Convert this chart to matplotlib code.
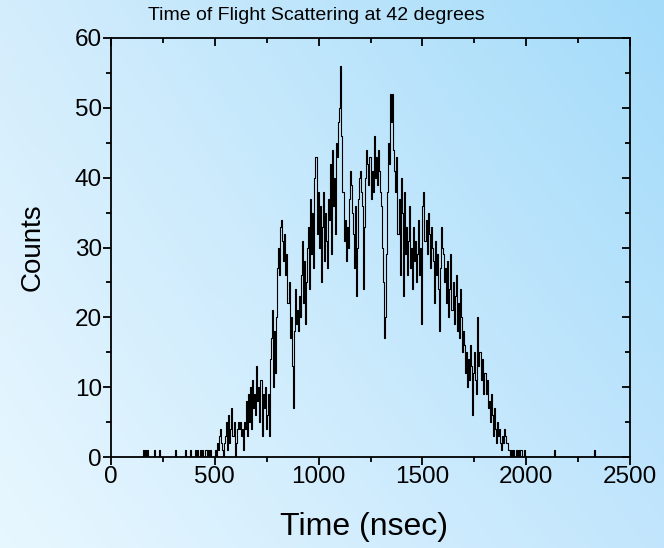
import numpy as np
import matplotlib
matplotlib.use("Agg")
import matplotlib.pyplot as plt
from matplotlib.ticker import MultipleLocator

plt.rcParams['font.family'] = ['Liberation Sans', 'DejaVu Sans']

# histogram: 5 nsec bins, main part starts at 500 nsec
bin_width = 5
t_start = 500
counts_main = [
    1, 0, 2, 1, 3, 4, 2, 1, 0, 2, 3, 5, 1, 6, 2, 4, 7, 3, 5, 0,            # 500
    2, 4, 5, 4, 5, 3, 4, 1, 5, 4, 8, 3, 9, 5, 10, 4, 11, 7, 9, 6,          # 600
    13, 8, 10, 5, 11, 3, 9, 7, 10, 4, 6, 9, 3, 14, 17, 21, 10, 18, 12, 20,  # 700
    27, 30, 26, 33, 34, 31, 28, 32, 26, 29, 22, 25, 17, 20, 13, 7, 18, 24, 19, 21,  # 800
    18, 23, 20, 26, 31, 22, 28, 19, 25, 30, 33, 24, 37, 29, 35, 27, 40, 43, 32, 38,  # 900
    30, 36, 25, 33, 38, 28, 35, 31, 27, 37, 34, 42, 29, 44, 36, 40, 32, 45, 43, 48,  # 1000
    50, 56, 46, 38, 31, 34, 28, 33, 30, 37, 41, 39, 35, 32, 27, 36, 23, 30, 37, 40,  # 1100
    41, 38, 36, 24, 33, 40, 44, 42, 39, 43, 37, 41, 38, 46, 40, 43, 39, 44, 41, 38,  # 1200
    36, 30, 25, 17, 20, 29, 38, 45, 42, 52, 48, 52, 44, 41, 38, 43, 32, 37, 26, 40,  # 1300
    35, 23, 38, 29, 33, 26, 31, 36, 27, 30, 24, 33, 28, 31, 25, 29, 34, 26, 30, 19,  # 1400
    36, 38, 31, 34, 29, 35, 32, 27, 33, 30, 28, 22, 31, 26, 29, 24, 18, 27, 33, 30,  # 1500
    29, 25, 27, 22, 28, 20, 24, 29, 21, 25, 19, 23, 26, 18, 22, 17, 24, 20, 15, 18,  # 1600
    16, 12, 15, 10, 14, 11, 16, 13, 6, 12, 15, 11, 9, 20, 13, 15, 11, 14, 9, 12,     # 1700
    12, 9, 11, 7, 8, 5, 9, 6, 3, 7, 4, 2, 5, 3, 4, 2, 1, 3, 2, 4,                    # 1800
    3, 2, 1, 1, 0, 1, 0, 1, 0, 0, 1, 0, 1, 0, 1, 1, 0, 0, 1, 0,                      # 1900
]
# single counts outside the main peak
stray_times = [155, 165, 175, 205, 230, 310, 355, 380, 405, 415, 430, 440, 455, 465, 475,
               2135, 2325]

x_ticks = [0, 500, 1000, 1500, 2000, 2500]
y_ticks = [0, 10, 20, 30, 40, 50, 60]

times = np.arange(0, 2500, bin_width)
counts = np.zeros(len(times))
i0 = t_start // bin_width
counts[i0:i0 + len(counts_main)] = counts_main
for t in stray_times:
    counts[t // bin_width] = 1

fig = plt.figure(figsize=(6.64, 5.48), dpi=100)

# background gradient
bg = fig.add_axes([0, 0, 1, 1], zorder=-10)
tl = np.array([0.83, 0.93, 0.99])
tr = np.array([0.64, 0.86, 0.98])
bl = np.array([0.91, 0.97, 1.00])
br = np.array([0.76, 0.90, 0.99])
u = np.linspace(0, 1, 200)[None, :, None]
v = np.linspace(0, 1, 200)[:, None, None]
grad = (tl * (1 - u) * (1 - v) + tr * u * (1 - v) + bl * (1 - u) * v + br * u * v)
bg.imshow(grad, aspect='auto', extent=[0, 1, 0, 1], interpolation='bilinear')
bg.axis('off')

ax = fig.add_axes([0.1672, 0.166, 0.7816, 0.7647])
ax.set_facecolor('none')
ax.step(times + bin_width / 2, counts, where='mid', color='black', lw=0.8)

ax.set_xlim(0, 2500)
ax.set_ylim(0, 60)
ax.set_xticks(x_ticks)
ax.set_yticks(y_ticks)
ax.xaxis.set_minor_locator(MultipleLocator(250))
ax.yaxis.set_minor_locator(MultipleLocator(5))
ax.tick_params(which='both', top=True, right=True, width=1.3, labelsize=17.5, pad=1)
ax.tick_params(which='major', length=5.5)
ax.tick_params(which='minor', length=3.5)
for s in ax.spines.values():
    s.set_linewidth(1.3)
# bottom/left ticks out, top/right ticks in
ax.xaxis.set_tick_params(which='both', direction='out')
ax.yaxis.set_tick_params(which='both', direction='out')
for tk in ax.xaxis.get_major_ticks() + ax.xaxis.get_minor_ticks():
    tk.tick2line.set_marker(3)
for tk in ax.yaxis.get_major_ticks() + ax.yaxis.get_minor_ticks():
    tk.tick2line.set_marker(0)

fig.text(0.477, 0.972, 'Time of Flight Scattering at 42 degrees', fontsize=14,
         ha='center', va='center')
ax.set_xlabel('Time (nsec)', fontsize=23, va='center')
ax.xaxis.set_label_coords(0.488, -0.167)
ax.set_ylabel('Counts', fontsize=20, va='center')
ax.yaxis.set_label_coords(-0.152, 0.501)

fig.savefig('out.png', dpi=100)
